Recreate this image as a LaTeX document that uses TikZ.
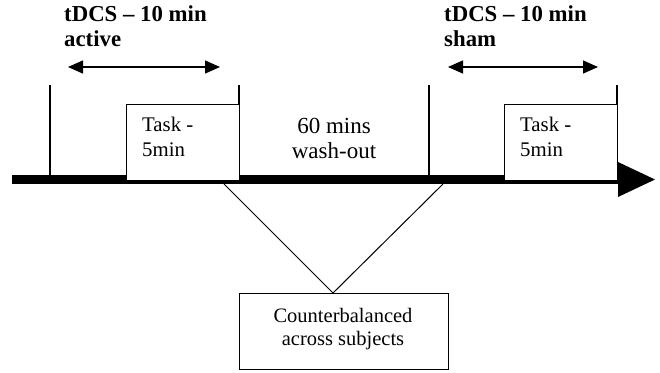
\documentclass[tikz,border=0pt]{standalone}
\usepackage{fontspec}
\setmainfont{Liberation Serif}
\usetikzlibrary{arrows.meta}
\begin{document}
\begin{tikzpicture}[x=1pt,y=-1pt,
  thin line/.style={line width=1.2pt},
  taskbox/.style={draw,line width=1.2pt,fill=white,minimum width=113pt,minimum height=76pt,inner sep=0pt,anchor=north west},
  hdtext/.style={font=\bfseries\fontsize{22.8}{25}\selectfont,inner sep=0pt,anchor=base west},
  tasktext/.style={font=\fontsize{20.8}{25}\selectfont,inner sep=0pt,anchor=base west},
  midtext/.style={font=\fontsize{23}{25}\selectfont,inner sep=0pt,anchor=base},
  span/.style={line width=1.3pt,{Triangle[length=15pt,width=13pt]}-{Triangle[length=15pt,width=13pt]}}]
\useasboundingbox (0,0) rectangle (660,372);
% main timeline
\fill (12,175) rectangle (619,184);
\fill (618,162) -- (655,179.5) -- (618,197) -- cycle;
% vertical markers
\coordinate (v1t) at (50,85); \coordinate (v1b) at (50,176);
\coordinate (v2t) at (239,85); \coordinate (v2b) at (239,105);
\coordinate (v3t) at (429,85); \coordinate (v3b) at (429,176);
\coordinate (v4t) at (617,85); \coordinate (v4b) at (617,105);
\draw[thin line] (v1t) -- (v1b);
\draw[thin line] (v2t) -- (v2b);
\draw[thin line] (v3t) -- (v3b);
\draw[thin line] (v4t) -- (v4b);
% task boxes
\node[taskbox] (box1) at (126,104) {};
\node[taskbox] (box2) at (504,104) {};
\node[tasktext] (t1a) at (142,131) {Task -};
\node[tasktext] (t1b) at (142,156) {5min};
\node[tasktext] (t2a) at (520,131) {Task -};
\node[tasktext] (t2b) at (520,156) {5min};
% headers
\node[hdtext] (h1a) at (64,21) {tDCS -- 10 min};
\node[hdtext] (h1b) at (64,46) {active};
\node[hdtext] (h2a) at (444,21) {tDCS -- 10 min};
\node[hdtext] (h2b) at (444,46) {sham};
% span arrows
\coordinate (a1l) at (68,67); \coordinate (a1r) at (220,67);
\coordinate (a2l) at (448,67); \coordinate (a2r) at (598,67);
\draw[span] (a1l) -- (a1r);
\draw[span] (a2l) -- (a2r);
% washout text
\node[midtext] (w1) at (334,133) {60 mins};
\node[midtext] (w2) at (334,158) {wash-out};
% counterbalanced
\node[draw,line width=1.2pt,minimum width=209pt,minimum height=76pt,inner sep=0pt,anchor=north west] (cb) at (239,293) {};
\node[font=\fontsize{20.5}{23}\selectfont,inner sep=0pt,anchor=base] (cb1) at (343,322) {Counterbalanced};
\node[font=\fontsize{20.5}{23}\selectfont,inner sep=0pt,anchor=base] (cb2) at (343,345) {across subjects};
\coordinate (c1) at (224,184);
\coordinate (c2) at (443,184);
\coordinate (apex) at (333,293);
\draw[line width=1pt] (c1) -- (apex) -- (c2);
\end{tikzpicture}
\end{document}
